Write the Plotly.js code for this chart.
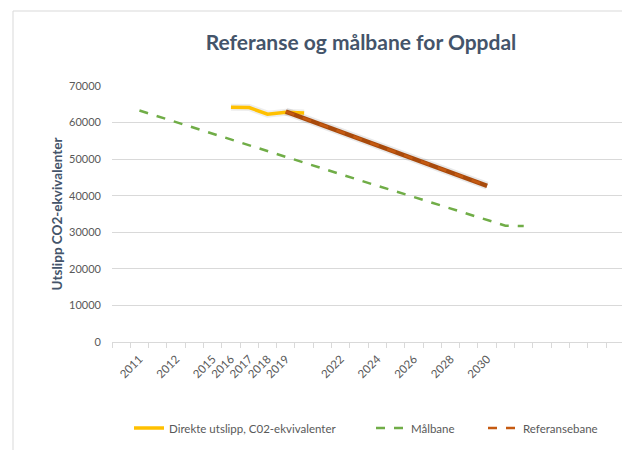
<!DOCTYPE html>
<html>
<head>
<meta charset="utf-8">
<script src="https://cdn.plot.ly/plotly-3.0.1.min.js"></script>
<style>
  html, body { margin: 0; padding: 0; background: #ffffff; }
  #chart { width: 622px; height: 450px; }
</style>
</head>
<body>
<div id="chart"></div>
<script>
// Category slots along the x axis (index = slot), with the labels shown
const categoryLabels = ["", "2011", "", "2012", "", "2015", "2016", "2017", "2018", "2019",
  "", "", "2022", "", "2024", "", "2026", "", "2028", "", "2030",
  "", "", "", "", "", "", ""];

// Direkte utslipp, C02-ekvivalenter
const direkteX = [6, 7, 8, 9, 10];
const direkteValues = [64200, 64100, 62300, 62800, 62600];

// Målbane
const malbaneX = [1, 2, 3, 4, 5, 6, 7, 8, 9, 10, 11, 12, 13, 14, 15, 16, 17, 18, 19, 20, 21, 22];
const malbaneValues = [63300, 61700, 60100, 58500, 56900, 55400, 53800, 52200, 50600, 49000, 47500,
  45900, 44300, 42700, 41200, 39600, 38000, 36400, 34800, 33300, 31800, 31700];

// Referansebane
const referanseX = [9, 10, 11, 12, 13, 14, 15, 16, 17, 18, 19, 20];
const referanseValues = [63000, 61150, 59300, 57450, 55600, 53750, 51900, 50050, 48200, 46350, 44500, 42700];

const labelIdx = [];
const labelTxt = [];
categoryLabels.forEach((l, i) => { if (l !== "") { labelIdx.push(i); labelTxt.push(l); } });

const FONT = "Lato, 'Open Sans', sans-serif";
const TXT = "#595959";
const YELLOW = "#FFC000";
const GREEN = "#70AD47";
const BROWN = "#C55A11";
const BROWN_DARK = "#A84A0C";

const traces = [
  { x: direkteX, y: direkteValues, type: "scatter", mode: "lines", showlegend: false, hoverinfo: "skip",
    line: { color: "rgba(0,0,0,0.07)", width: 7 } },
  { x: referanseX, y: referanseValues, type: "scatter", mode: "lines", showlegend: false, hoverinfo: "skip",
    line: { color: "rgba(0,0,0,0.09)", width: 8 } },
  { x: malbaneX, y: malbaneValues, type: "scatter", mode: "lines", name: "Målbane", legend: "legend2",
    line: { color: GREEN, width: 2.5, dash: "dash" } },
  { x: direkteX, y: direkteValues, type: "scatter", mode: "lines", name: "Direkte utslipp, C02-ekvivalenter", legend: "legend",
    line: { color: YELLOW, width: 3.5 } },
  { x: referanseX, y: referanseValues, type: "scatter", mode: "lines", showlegend: false, hoverinfo: "skip",
    line: { color: BROWN_DARK, width: 4.5 } },
  { x: referanseX, y: referanseValues, type: "scatter", mode: "lines", name: "Referansebane", legend: "legend3",
    line: { color: BROWN, width: 2.5, dash: "dash" } }
];

const W = 622, H = 450;
const legendFont = { family: FONT, size: 11.5, color: TXT };
const legendCommon = { orientation: "h", xref: "container", yref: "container", yanchor: "middle",
  font: legendFont, bgcolor: "rgba(0,0,0,0)", borderwidth: 0 };

const layout = {
  width: W, height: H,
  margin: { l: 112, r: 0, t: 86, b: 108 },
  paper_bgcolor: "#ffffff",
  plot_bgcolor: "#ffffff",
  font: { family: FONT, color: TXT, size: 11 },
  title: { text: "<b>Referanse og målbane for Oppdal</b>", font: { family: FONT, size: 21, color: "#44546A" },
    xref: "container", yref: "container", x: 361 / W, xanchor: "center", y: 1 - 43 / H, yanchor: "middle" },
  xaxis: {
    range: [-0.5, 27.37],
    tickmode: "array", tickvals: labelIdx, ticktext: labelTxt,
    tickangle: -45, ticks: "", showgrid: false, zeroline: false,
    showline: true, linecolor: "#d9d9d9", linewidth: 1,
    ticklabelstandoff: 5,
    tickfont: { family: FONT, size: 11.5, color: TXT },
    minor: { tickmode: "linear", tick0: -0.5, dtick: 1, ticks: "outside", ticklen: 5, tickcolor: "#d9d9d9", tickwidth: 1, showgrid: false },
    fixedrange: true
  },
  yaxis: {
    range: [0, 70000],
    tickmode: "linear", tick0: 0, dtick: 10000,
    tickformat: "d",
    showgrid: true, gridcolor: "#d9d9d9", gridwidth: 1,
    zeroline: false, showline: false, ticks: "",
    ticklabelstandoff: 10,
    tickfont: { family: FONT, size: 11, color: TXT },
    title: { text: "<b>Utslipp CO2-ekvivalenter</b>", font: { family: FONT, size: 13.5, color: "#44546A" }, standoff: 3 },
    fixedrange: true
  },
  legend: Object.assign({}, legendCommon, { x: 129 / W, y: 1 - 428 / H }),
  legend2: Object.assign({}, legendCommon, { x: 371 / W, y: 1 - 428 / H }),
  legend3: Object.assign({}, legendCommon, { x: 483 / W, y: 1 - 428 / H }),
  shapes: [
    { type: "line", xref: "paper", yref: "paper", x0: (13 - 112) / 510, x1: (13 - 112) / 510, y0: (342 - 11) / 256, y1: (342 - 460) / 256,
      line: { color: "#d9d9d9", width: 1 } },
    { type: "line", xref: "paper", yref: "paper", x0: (13 - 112) / 510, x1: (640 - 112) / 510, y0: (342 - 11) / 256, y1: (342 - 11) / 256,
      line: { color: "#d9d9d9", width: 1 } }
  ],
  showlegend: true
};

Plotly.newPlot("chart", traces, layout, { displayModeBar: false, staticPlot: true });
</script>
</body>
</html>
